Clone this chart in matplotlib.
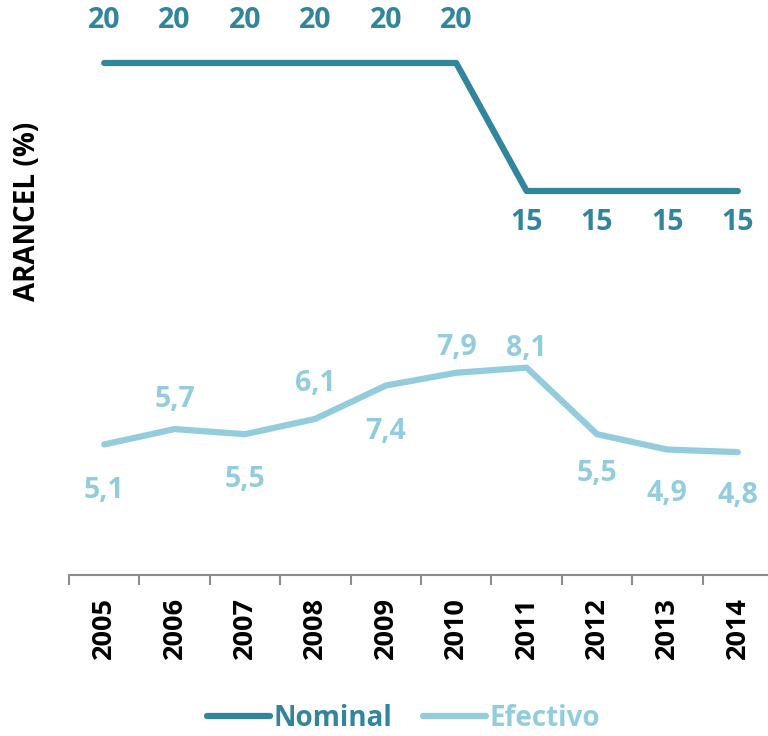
import matplotlib
matplotlib.use("Agg")
import matplotlib.pyplot as plt
import numpy as np

plt.rcParams['font.family'] = ['Open Sans', 'DejaVu Sans']
plt.rcParams['font.weight'] = 'bold'

years = ["2005", "2006", "2007", "2008", "2009", "2010", "2011", "2012", "2013", "2014"]
nominal = [20, 20, 20, 20, 20, 20, 15, 15, 15, 15]
efectivo = [5.1, 5.7, 5.5, 6.1, 7.4, 7.9, 8.1, 5.5, 4.9, 4.8]
efectivo_labels = ["5,1", "5,7", "5,5", "6,1", "7,4", "7,9", "8,1", "5,5", "4,9", "4,8"]

c_nom = "#31859C"
c_efe = "#93CDDD"

# label offsets in pixels (vertical)
nom_off = [43, 43, 43, 43, 43, 43, -31, -31, -31, -31]
efe_off = [-46, 30, -45, 35, -46, 25, 19, -39, -44, -43]

fig = plt.figure(figsize=(7.68, 7.36), dpi=100)
ax = fig.add_axes([69 / 768, 161 / 736, 704 / 768, 563.2 / 736])

x = np.arange(len(years))
ax.plot(x, nominal, color=c_nom, lw=4.5, solid_capstyle='round', label="Nominal", clip_on=False)
ax.plot(x, efectivo, color=c_efe, lw=4.5, solid_capstyle='round', label="Efectivo", clip_on=False)

for i in range(len(years)):
    ax.annotate(str(nominal[i]), (x[i], nominal[i]), xytext=(0, nom_off[i]),
                textcoords='offset pixels', ha='center', va='center',
                color=c_nom, fontsize=20.5, fontweight='bold', annotation_clip=False)
    ax.annotate(efectivo_labels[i], (x[i], efectivo[i]), xytext=(0, efe_off[i]),
                textcoords='offset pixels', ha='center', va='center',
                color=c_efe, fontsize=20.5, fontweight='bold', annotation_clip=False)

ax.set_xlim(-0.5, len(years) - 0.5)
ax.set_ylim(0, 22)

for s in ['top', 'right', 'left']:
    ax.spines[s].set_visible(False)
ax.spines['bottom'].set_color('#8c8c8c')
ax.spines['bottom'].set_linewidth(1.5)

ax.set_yticks([])
ax.set_xticks(x)
ax.set_xticklabels(years, rotation=90, fontsize=19.5, fontweight='bold', color='black')
ax.tick_params(axis='x', which='major', length=0, pad=16)
ax.set_xticks(np.arange(-0.5, len(years), 1), minor=True)
ax.tick_params(axis='x', which='minor', length=7.5, width=1.5, color='#8c8c8c', direction='out')

fig.text(28 / 768, 1 - 211 / 736, "ARANCEL (%)", rotation=90, ha='center', va='center',
         fontsize=20, fontweight='bold', color='black')

fig.legend(loc='center', bbox_to_anchor=(0.525, 1 - 718 / 736), ncol=2, frameon=False,
           handlelength=2.3, handletextpad=0.1, columnspacing=1.1,
           labelcolor='linecolor', prop={'weight': 'bold', 'size': 20})

fig.savefig("out.png", dpi=100)
